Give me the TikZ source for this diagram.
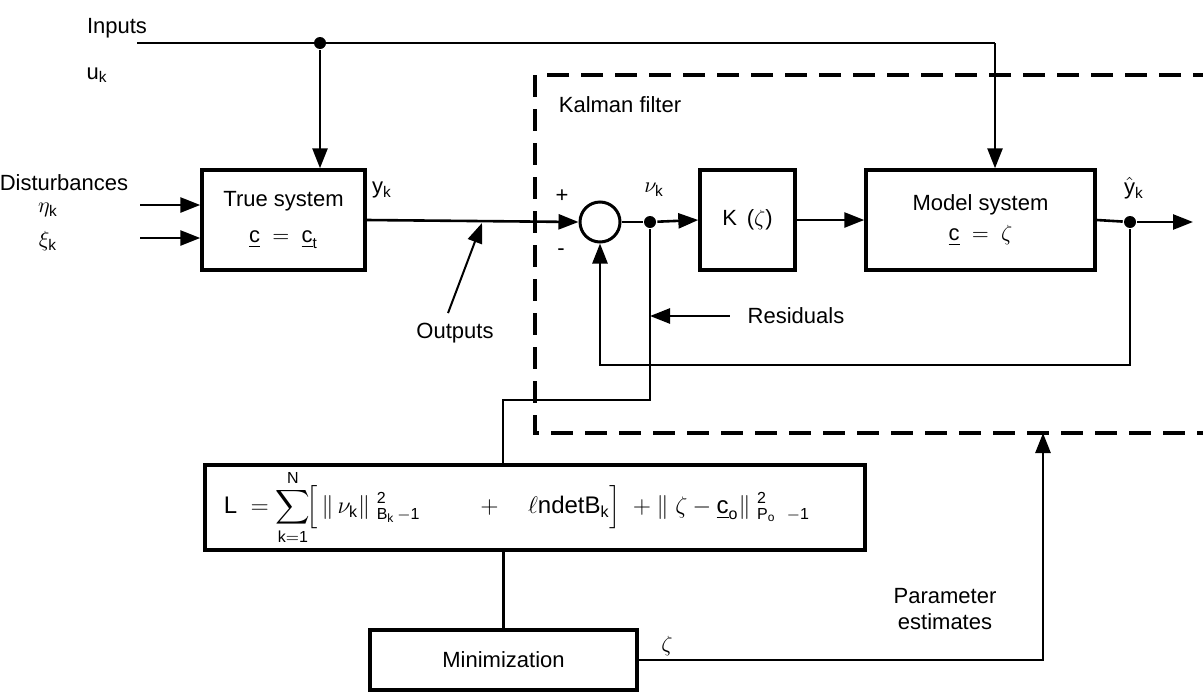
\documentclass[tikz,border=0pt]{standalone}
\usepackage{amsmath}
\usepackage{fontspec}
\setmainfont{Liberation Sans}
\setsansfont{Liberation Sans}
\usetikzlibrary{arrows.meta, positioning, calc}

\tikzset{
  blk/.style={draw, line width=1.7pt, minimum height=50pt, align=center},
  kfbox/.style={line width=1.8pt, dash pattern=on 11pt off 6pt},
  jdot/.style={circle, fill, inner sep=0pt, minimum size=6pt},
}

\begin{document}
\begin{tikzpicture}[x=0.5pt, y=-0.5pt, font=\fontsize{11}{13}\selectfont,
    line width=1.3pt, >={Triangle[length=10pt,width=7.5pt]}]
    \useasboundingbox (0,0) rectangle (1203,691);

    % Kalman filter (dashed, open on the right)
    \draw[kfbox] (1215,75) -- (535,75) -- (535,433) -- (1215,433);
    \coordinate (kfB) at (1043,433);
    \node at (620,105) {Kalman filter};

    % blocks
    \node[blk, minimum width=81.5pt] (true) at (283.5,220)
        {True system\\[5pt] $\underline{\mathsf c}\ =\ \underline{\mathsf c}_{\mathsf t}$};
    \node[draw, circle, line width=1.5pt, minimum size=20pt, inner sep=0pt] (sum) at (600,222) {};
    \node[blk, minimum width=47.5pt] (K) at (747.5,220) {K\ \,($\zeta$)};
    \node[blk, minimum width=114.5pt] (model) at (980.5,220)
        {Model system\\[2pt] $\underline{\mathsf c}\ =\ \zeta$};
    \node[blk, minimum width=330pt, minimum height=42.5pt, inner sep=0pt, font=\fontsize{12}{14}\selectfont] (Lbox) at (535,507.5)
        {$\mathsf L\ =\displaystyle\sum_{\mathsf{k=1}}^{\mathsf N}\!\Bigl[\,\|\,\nu_{\mathsf k}\|\;{}^{\mathsf 2}_{\mathsf{B_k}\,\mathsf{-1}}\qquad\ +\quad\ell\mathsf{ndetB_k}\Bigr]\;+\|\;\zeta-\underline{\mathsf c}_{\mathsf o}\|\;{}^{\mathsf 2}_{\mathsf{P_o}\ \;\mathsf{-1}}$\hspace*{18pt}};
    \node[blk, minimum width=133.5pt, minimum height=30pt] (mini) at (503.5,660) {Minimization};

    % inputs
    \node at (117,28) {Inputs};
    \node at (97,75) {$\mathsf u_{\mathsf k}$};
    \coordinate (inL) at (137,43);
    \node[jdot] (inJ) at (320,43) {};
    \coordinate (inR) at (995,43);
    \draw (inL) -- (inR);
    \draw[->] (inJ) -- (inJ |- true.north);
    \draw[->] (inR) -- (inR |- model.north);

    % disturbances
    \node at (64,183) {Disturbances};
    \node at (48,210) {$\eta_{\mathsf k}$};
    \node at (48,241) {$\xi_{\mathsf k}$};
    \coordinate (eta) at (140,205);
    \coordinate (xi) at (140,238);
    \draw[->] (eta) -- (eta -| true.west);
    \draw[->] (xi) -- (xi -| true.west);

    % forward path
    \draw[->] (true.east) -- (sum.west);
    \node at (382,190) {$\mathsf y_{\mathsf k}$};
    \node at (562,196) {+};
    \node at (561,252) {-};
    \node[jdot] (nu) at (650,222) {};
    \node at (654,190) {$\nu_{\mathsf k}$};
    \draw (sum.east) -- (nu);
    \draw[->] (nu) -- (K.west);
    \draw[->] (K.east) -- (model.west);
    \node[jdot] (yhat) at (1130,222) {};
    \node at (1134,188) {$\hat{\mathsf y}_{\mathsf k}$};
    \coordinate (yout) at (1193,222);
    \draw (model.east) -- (yhat);
    \draw[->] (yhat) -- (yout);

    % feedback of estimate
    \draw[->] (yhat) -- ++(0,143) -| (sum.south);

    % residuals to criterion
    \coordinate (res) at (503,400);
    \draw (nu) |- (res) -- (res |- Lbox.north);
    \node (resid) at (796,316) {Residuals};
    \draw[->] ([xshift=-5pt]resid.west) -- (resid.west -| nu);

    % outputs annotation
    \node (outp) at (455,333) {Outputs};
    \coordinate (outTip) at (482,223);
    \draw[->, line width=1pt] ([shift={(-7,-2)}]outp.north) -- (outTip);

    % criterion to minimization, estimates back to filter
    \draw (mini.north) -- (mini.north |- Lbox.south);
    \draw[->] (mini.east) -| (kfB);
    \node at (667,646) {$\zeta$};
    \node[align=center] at (945,609) {Parameter\\ estimates};
\end{tikzpicture}
\end{document}
